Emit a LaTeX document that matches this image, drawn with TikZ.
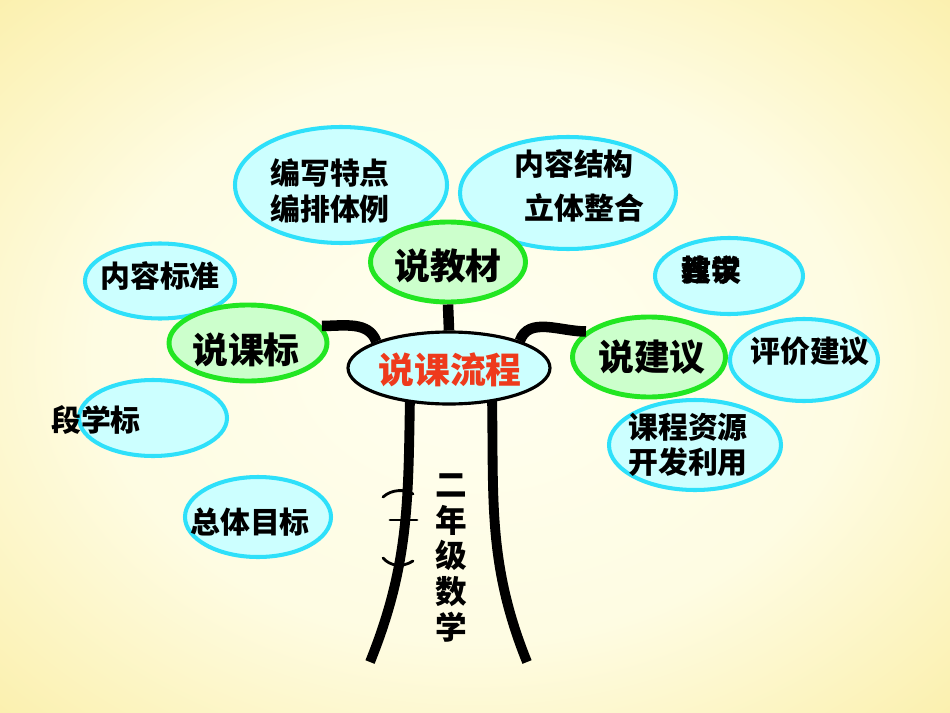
\documentclass[tikz,border=0pt]{standalone}
\usepackage{fontspec}
\newfontfamily\cjk{Noto Sans CJK SC}
\usepackage{tikz}
\usetikzlibrary{shapes.geometric}
\usetikzlibrary{calc}
\definecolor{bglight}{HTML}{FFFFF0}
\definecolor{bgdark}{HTML}{F8E57E}
\definecolor{leafline}{HTML}{2EE0FA}
\definecolor{leaffill}{HTML}{CCFFFF}
\definecolor{mainline}{HTML}{22E622}
\definecolor{mainfill}{HTML}{CCFFCC}
\definecolor{rootred}{HTML}{EE3A1C}
\pgfdeclareradialshading{bgshade}{\pgfpoint{0bp}{0bp}}{%
	color(0bp)=(bglight); color(20bp)=(bglight!88!bgdark); color(50bp)=(bgdark); color(72bp)=(bgdark!92!orange)}
\tikzset{
	every node/.style={align=center,inner sep=0pt,font=\cjk\bfseries},
	size/.style 2 args={minimum width=#1*0.02cm, minimum height=#2*0.02cm},
	leaf/.style={ellipse, draw=leafline, fill=leaffill, line width=2.3pt},
	mainbox/.style={ellipse, draw=mainline, fill=mainfill, line width=2.8pt},
	rootbox/.style={ellipse, draw=black, fill=leaffill, line width=1.8pt},
	txt/.style={font=\cjk\bfseries\fontsize{17}{21}\selectfont},
	bigtxt/.style={font=\cjk\bfseries\fontsize{20.4}{24}\selectfont},
	branch/.style={line width=6pt, draw=black},
	trunk/.style={line width=5.6pt, draw=black},
	stroke/.style={line width=1.6pt, line cap=round}
}

\begin{document}
\begin{tikzpicture}[x=0.02cm,y=-0.02cm]
	% Background
	\shade[shading=bgshade] (0,0) rectangle (950,713);
	\useasboundingbox (0,0) rectangle (950,713);
	
	% Leaves
	\node (bianxie) [leaf, size={212}{116}] at (341,185) {};
	\node (jiegou) [leaf, size={216}{112}] at (568,193) {};
	\node (biaozhun) [leaf, size={150}{75}] at (160,281) {};
	\node (jiaoxue) [leaf, size={148}{76}] at (729,276) {};
	\node (pingjia) [leaf, size={148}{82}] at (804,360) {};
	\node (ziyuan) [leaf, size={172}{90}] at (695,445) {};
	\node (xueduan) [leaf, size={148}{76}] at (153,418) {};
	\node (zongti) [leaf, size={146}{80}] at (258,517) {};
	
	% Main branches
	\node (jiaocai) [mainbox, size={155}{80}] at (448,262) {};
	\node (kebiao) [mainbox, size={158}{76}] at (248,343) {};
	\node (jianyi) [mainbox, size={153}{80}] at (649,357) {};
	
	% Trunk
	\coordinate (topL) at (410,395);
	\coordinate (topR) at (492,395);
	\coordinate (baseL) at (370,662);
	\coordinate (baseR) at (527,662);
	\draw[trunk] (topL) to[out=-91,in=68] (baseL);
	\draw[trunk] (topR) to[out=-89,in=112] (baseR);
	
	% Root
	\node (root) [rootbox, size={202}{72}] at (449,368) {};
	\path[branch] (root.160) edge[out=110,in=0] (kebiao.13);
	\path[branch] (root.21) edge[out=70,in=180] (jianyi.158);
	\path[branch] (root.north) edge (jiaocai.south);
	
	% Texts
	\node (troot) [bigtxt, text=rootred] at (450,370) {说课流程};
	\node (tjiaocai) [bigtxt] at (448,266) {说教材};
	\node (tkebiao) [bigtxt] at (246,350) {说课标};
	\node (tjianyi) [bigtxt] at (652,357) {说建议};
	\node (tbianxie) [txt, font=\cjk\bfseries\fontsize{17}{21}\selectfont] at (330,191) {编写特点\\编排体例};
	\node (tjiegou) [txt, font=\cjk\bfseries\fontsize{17}{25.5}\selectfont] at (574,186) {内容结构\\\hspace*{12pt}立体整合};
	\node (tbiaozhun) [txt] at (160,276) {内容标准};
	\node (tjiaoxue) [txt] at (711,270) {教学};
	\node (tjianyi2) [txt] at (711,270) {建议};
	\node (tpingjia) [txt] at (810,351) {评价建议};
	\node (tziyuan) [txt, font=\cjk\bfseries\fontsize{17}{20}\selectfont] at (688,445) {课程资源\\开发利用};
	\node (txueduan) [txt] at (96,420) {段学标};
	\node (tzongti) [txt] at (250,522) {总体目标};
	\node (tgrade) [txt, font=\cjk\bfseries\fontsize{18}{20.4}\selectfont] at (451,558) {二\\年\\级\\数\\学};
	
	% Strokes beside the trunk
	\draw[stroke] (383,497) .. controls (392,489) and (405,489) .. (413,494);
	\draw[stroke] (390,520) -- (417,520);
	\draw[stroke] (403,522) -- (403,543);
	\draw[stroke] (383,558) .. controls (390,566) and (402,568) .. (413,561);
\end{tikzpicture}
\end{document}
